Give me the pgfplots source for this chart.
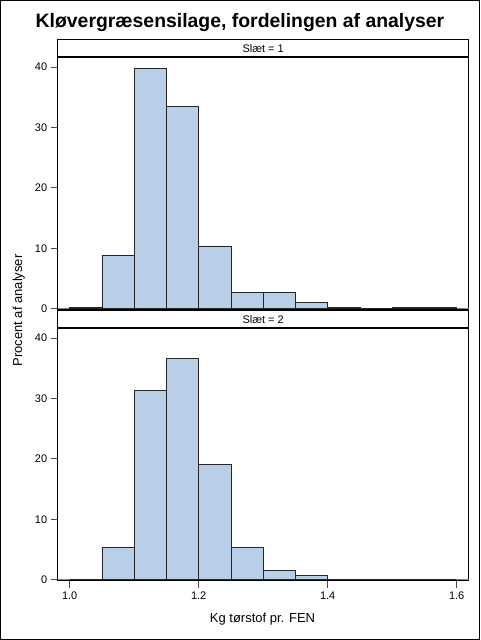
\documentclass[border=0pt]{standalone}
\usepackage{pgfplots}
\pgfplotsset{compat=1.18}
\usepackage{fontspec}
\setmainfont{Liberation Sans}
\definecolor{barfill}{RGB}{185,206,231}
\pgfplotstableread{
x y
1.00 0.2
1.05 8.9
1.10 39.7
1.15 33.5
1.20 10.4
1.25 2.65
1.30 2.65
1.35 1.1
1.40 0.2
1.45 0
1.50 0.2
1.55 0.2
1.60 0
}\slaetone
\pgfplotstableread{
x y
1.00 0
1.05 5.4
1.10 31.3
1.15 36.6
1.20 19.1
1.25 5.4
1.30 1.6
1.35 0.78
1.40 0
1.45 0
1.50 0
1.55 0
1.60 0
}\slaettwo
\pgfplotsset{panel/.style={
  scale only axis, width=411pt, height=253pt,
  xmin=0.9814, xmax=1.6186, ymin=-0.2, ymax=41.65,
  ytick={0,10,20,30,40},
  tick align=outside, major tick length=7pt,
  ytick pos=left, xtick pos=bottom,
  axis line style={line width=1pt},
  tick style={black!70, line width=0.8pt},
  ticklabel style={font=\fontsize{11}{13}\selectfont},
  /pgf/number format/assume math mode=true,
  clip=false,
}}
\begin{document}
\begin{tikzpicture}[x=1pt,y=1pt]
\path[use as bounding box] (0,0) rectangle (480,640);
\draw[line width=1.4pt] (0.7,0.7) rectangle (479.3,639.3);
\node[anchor=base,font=\fontsize{19.4}{22}\selectfont\bfseries] at (240,612.3) {Kløvergræsensilage, fordelingen af analyser};

\begin{axis}[panel, at={(57.7pt,330pt)}, anchor=south west, xtick=\empty]
\addplot[gray, line width=0.8pt] coordinates {(0.9814,0)(1.6186,0)};
\addplot[ybar interval, fill=barfill, draw=black!85, line width=0.8pt] table[x=x,y=y] {\slaetone};
\end{axis}

\begin{axis}[panel, at={(57.7pt,59pt)}, anchor=south west, xtick={1.0,1.2,1.4,1.6},
  xticklabel style={/pgf/number format/.cd, fixed, fixed zerofill, precision=1}]
\addplot[gray, line width=0.8pt] coordinates {(0.9814,0)(1.6186,0)};
\addplot[ybar interval, fill=barfill, draw=black!85, line width=0.8pt] table[x=x,y=y] {\slaettwo};
\end{axis}

\draw[line width=1pt, fill=white] (57.7,583.3) rectangle (468.7,600.3);
\draw[line width=2pt] (57.7,583.3) -- (468.7,583.3);
\node[anchor=base,font=\fontsize{11}{13}\selectfont] at (263.2,587.7) {Slæt = 1};
\draw[line width=1pt, fill=white] (57.7,312) rectangle (468.7,329.7);
\draw[line width=2pt] (57.7,312) -- (468.7,312);
\draw[line width=2pt] (57.7,329.7) -- (468.7,329.7);
\node[anchor=base,font=\fontsize{11}{13}\selectfont] at (263.2,316.7) {Slæt = 2};

\node[rotate=90, anchor=base, font=\fontsize{13}{15}\selectfont] at (22,329.5) {Procent af analyser};
\node[anchor=base, font=\fontsize{13}{15}\selectfont] at (262.5,17) {Kg tørstof pr. FEN};
\end{tikzpicture}
\end{document}
